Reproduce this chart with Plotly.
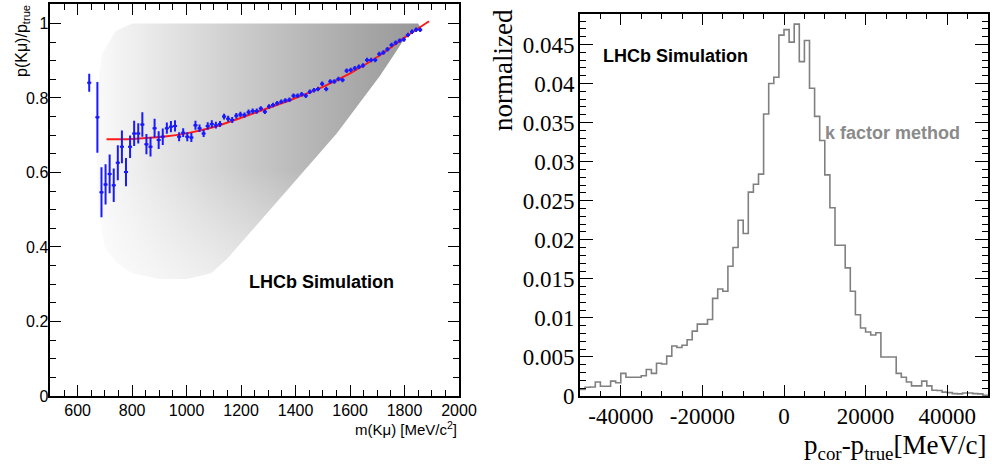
import plotly.graph_objects as go

# ---------------- Left panel data ----------------
mass_bins = [642.5, 672.5, 687.5, 702.5, 717.5, 732.5, 747.5, 762.5, 777.5, 792.5,
             807.5, 822.5, 837.5, 852.5, 867.5, 882.5, 897.5, 912.5, 927.5, 942.5,
             957.5, 972.5, 987.5, 1002.5, 1017.5, 1032.5, 1047.5, 1062.5, 1077.5, 1092.5,
             1107.5, 1122.5, 1137.5, 1152.5, 1167.5, 1182.5, 1197.5, 1212.5, 1227.5, 1242.5,
             1257.5, 1272.5, 1287.5, 1302.5, 1317.5, 1332.5, 1347.5, 1362.5, 1377.5, 1392.5,
             1407.5, 1422.5, 1437.5, 1452.5, 1467.5, 1482.5, 1497.5, 1512.5, 1527.5, 1542.5,
             1557.5, 1572.5, 1587.5, 1602.5, 1617.5, 1632.5, 1647.5, 1662.5, 1677.5, 1692.5,
             1707.5, 1722.5, 1737.5, 1752.5, 1767.5, 1782.5, 1797.5, 1812.5, 1827.5, 1842.5,
             1857.5]
ratio_vals = [0.841, 0.748, 0.547, 0.568, 0.596, 0.566, 0.626, 0.669, 0.601, 0.669,
              0.705, 0.705, 0.729, 0.676, 0.669, 0.719, 0.687, 0.696, 0.719, 0.723,
              0.725, 0.696, 0.707, 0.696, 0.694, 0.727, 0.719, 0.705, 0.725, 0.730,
              0.727, 0.730, 0.750, 0.744, 0.741, 0.752, 0.756, 0.754, 0.762, 0.765,
              0.765, 0.772, 0.763, 0.777, 0.781, 0.786, 0.790, 0.793, 0.795, 0.806,
              0.806, 0.810, 0.806, 0.817, 0.821, 0.824, 0.838, 0.824, 0.844, 0.844,
              0.851, 0.848, 0.873, 0.875, 0.880, 0.884, 0.887, 0.902, 0.902, 0.902,
              0.918, 0.922, 0.931, 0.942, 0.948, 0.954, 0.957, 0.969, 0.978, 0.983,
              0.983]
ratio_errs = [0.024, 0.095, 0.067, 0.054, 0.052, 0.045, 0.047, 0.044, 0.038, 0.030,
              0.034, 0.027, 0.033, 0.027, 0.026, 0.025, 0.024, 0.022, 0.015, 0.015,
              0.015, 0.012, 0.012, 0.012, 0.012, 0.012, 0.010, 0.010, 0.010, 0.010,
              0.009, 0.008, 0.008, 0.008, 0.008, 0.008, 0.007, 0.007, 0.007, 0.007,
              0.007, 0.006, 0.006, 0.006, 0.006, 0.006, 0.006, 0.006, 0.006, 0.006,
              0.006, 0.006, 0.006, 0.006, 0.006, 0.006, 0.006, 0.006, 0.006, 0.006,
              0.006, 0.006, 0.006, 0.006, 0.006, 0.006, 0.006, 0.006, 0.006, 0.006,
              0.006, 0.006, 0.006, 0.006, 0.006, 0.006, 0.006, 0.006, 0.006, 0.006,
              0.006]
mass_half_width = 7.5

fit_mass = [706, 800, 900, 1000, 1100, 1200, 1300, 1400, 1500, 1600, 1700, 1800, 1890]
fit_ratio = [0.689, 0.690, 0.695, 0.705, 0.722, 0.747, 0.773, 0.800, 0.830, 0.866, 0.910, 0.962, 1.006]

# envelope of the scatter cloud, and of its sparse lower part
cloud_outer_x = [668, 690, 740, 800, 1000, 1400, 1700, 1850, 1862, 1812, 1774, 1710, 1628,
                 1551, 1438, 1330, 1232, 1150, 1090, 1000, 900, 800, 740, 700, 675, 668]
cloud_outer_y = [0.80, 0.92, 0.98, 1.0, 1.0, 1.0, 1.0, 1.0, 0.985, 0.973, 0.93, 0.86, 0.78,
                 0.705, 0.61, 0.52, 0.437, 0.37, 0.33, 0.315, 0.315, 0.33, 0.36, 0.40, 0.50, 0.80]
cloud_low_x = [668, 900, 1100, 1438, 1438, 1330, 1232, 1150, 1090, 1000, 900, 800, 740, 700, 675, 668]
cloud_low_y = [0.61, 0.61, 0.61, 0.61, 0.61, 0.52, 0.437, 0.37, 0.33, 0.315, 0.315, 0.33, 0.36, 0.40, 0.50, 0.61]

# ---------------- Right panel data ----------------
hist_low = -50000
hist_width = 1250
hist_vals = [0.00085, 0.00112, 0.00115, 0.0018, 0.00124, 0.00124, 0.0019, 0.0017, 0.0029, 0.0024,
             0.0024, 0.0024, 0.0026, 0.0034, 0.0029, 0.0042, 0.0041, 0.0051, 0.0064, 0.0062,
             0.0065, 0.0072, 0.0083, 0.0092, 0.0092, 0.0098, 0.0125, 0.0137, 0.0134, 0.0166,
             0.0190, 0.0225, 0.0208, 0.0261, 0.0271, 0.0284, 0.0361, 0.0400, 0.0408, 0.0462,
             0.0469, 0.0453, 0.0476, 0.0428, 0.0455, 0.0394, 0.0358, 0.0327, 0.0283, 0.0241,
             0.0193, 0.0193, 0.0164, 0.0134, 0.0104, 0.0087, 0.0082, 0.0078, 0.0081, 0.0050,
             0.0050, 0.0050, 0.0029, 0.0024, 0.0018, 0.0013, 0.0013, 0.0019, 0.0013, 0.00073,
             0.0007, 0.0005, 0.00043, 0.0003, 0.00027, 0.00038, 0.00038, 0.0003, 0.00027, 0.0001]
xr_tickvals = [-40000, -20000, 0, 20000, 40000]
xr_ticktext = ["-40000", "-20000", "0", "20000", "40000"]

W, H = 992, 464
SANS = "Liberation Sans, Arial, Helvetica, sans-serif"
SERIF = "Liberation Serif, Times New Roman, serif"

fig = go.Figure()

# cloud: graded grey body, fading out towards its sparse lower part
fig.add_trace(go.Scatter(x=cloud_outer_x, y=cloud_outer_y, mode="lines", fill="toself",
                         fillgradient=dict(type="horizontal", start=668, stop=1862,
                                           colorscale=[[0, "rgb(250,250,250)"], [0.12, "rgb(238,238,238)"],
                                                       [0.35, "rgb(214,214,214)"], [0.6, "rgb(188,188,188)"],
                                                       [0.85, "rgb(164,164,164)"], [1, "rgb(152,152,152)"]]),
                         line=dict(width=0), hoverinfo="skip", showlegend=False,
                         xaxis="x", yaxis="y"))
fig.add_trace(go.Scatter(x=cloud_low_x, y=cloud_low_y, mode="lines", fill="toself",
                         fillgradient=dict(type="vertical", start=0.315, stop=0.61,
                                           colorscale=[[0, "rgba(255,255,255,0.6)"],
                                                       [0.5, "rgba(255,255,255,0.3)"],
                                                       [1, "rgba(255,255,255,0)"]]),
                         line=dict(width=0), hoverinfo="skip", showlegend=False,
                         xaxis="x", yaxis="y"))
# fit curve
fig.add_trace(go.Scatter(x=fit_mass, y=fit_ratio, mode="lines",
                         line=dict(color="#ff1a1a", width=2, shape="spline"),
                         showlegend=False, xaxis="x", yaxis="y"))
# profile points
fig.add_trace(go.Scatter(x=mass_bins, y=ratio_vals, mode="markers",
                         marker=dict(color="#1a1aff", size=3),
                         error_y=dict(type="data", array=ratio_errs, color="#1a1aff", thickness=2, width=0),
                         error_x=dict(type="constant", value=mass_half_width, color="#1a1aff",
                                      thickness=2, width=0),
                         showlegend=False, xaxis="x", yaxis="y"))

# histogram (step line)
edges = [hist_low + hist_width * i for i in range(len(hist_vals) + 1)]
fig.add_trace(go.Scatter(x=edges, y=hist_vals + [hist_vals[-1]], mode="lines",
                         line=dict(color="#808080", width=1.6, shape="hv"),
                         showlegend=False, xaxis="x2", yaxis="y2"))

ax_common = dict(showline=True, linecolor="black", linewidth=1.8, mirror="ticks",
                 ticks="inside", tickcolor="black", tickwidth=1.4, showgrid=False,
                 zeroline=False, fixedrange=True, automargin=False)

fig.update_layout(
    width=W, height=H, margin=dict(l=0, r=0, t=0, b=0),
    paper_bgcolor="white", plot_bgcolor="white",
    xaxis=dict(domain=[50.4 / W, 459 / W], range=[500, 2000], tick0=0, dtick=200,
               ticklen=11, minor=dict(dtick=50, tick0=0, ticklen=6, ticks="inside",
                                      tickcolor="black", tickwidth=1.4),
               tickfont=dict(family=SANS, size=16, color="black"), ticklabelstandoff=-1,
               anchor="y", **ax_common),
    yaxis=dict(domain=[1 - 396 / H, 1 - 4 / H], range=[0, 1.0523], tick0=0, dtick=0.2,
               ticklen=11, minor=dict(dtick=0.05, tick0=0, ticklen=6, ticks="inside",
                                      tickcolor="black", tickwidth=1.4),
               tickfont=dict(family=SANS, size=16, color="black"), ticklabelstandoff=-3,
               anchor="x", **ax_common),
    xaxis2=dict(domain=[580 / W, 988 / W], range=[-50000, 50000], tickmode="array",
                tickvals=xr_tickvals, ticktext=xr_ticktext, ticklen=11,
                minor=dict(tickmode="linear", dtick=5000, tick0=0, ticklen=5, ticks="inside",
                           tickcolor="black", tickwidth=1.4),
                tickfont=dict(family=SERIF, size=23, color="black"), ticklabelstandoff=-2,
                anchor="y2", **ax_common),
    yaxis2=dict(domain=[1 - 396 / H, 1 - 14 / H], range=[0, 0.0489], tick0=0, dtick=0.005,
                ticklen=13, minor=dict(dtick=0.001, tick0=0, ticklen=6, ticks="inside",
                                       tickcolor="black", tickwidth=1.4),
                tickfont=dict(family=SERIF, size=23, color="black"), ticklabelstandoff=-1,
                anchor="x2", **ax_common),
)

def px(x):
    return x / W

def py(y):
    return 1 - y / H

annotations = [
    dict(text="<b>LHCb Simulation</b>", x=px(246.5), y=py(282), xanchor="left", yanchor="middle",
         font=dict(family=SANS, size=18, color="black")),
    dict(text="m(Kμ) [MeV/c<sup>2</sup>]", x=px(459), y=py(428), xanchor="right", yanchor="middle",
         font=dict(family=SANS, size=15, color="black")),
    dict(text="p(Kμ)/p<sub>true</sub>", x=px(22), y=py(3), xanchor="center", yanchor="top",
         textangle=-90, font=dict(family=SANS, size=16, color="black")),
    dict(text="<b>LHCb Simulation</b>", x=px(601), y=py(56), xanchor="left", yanchor="middle",
         font=dict(family=SANS, size=18, color="black")),
    dict(text="<b>k factor method</b>", x=px(823), y=py(133), xanchor="left", yanchor="middle",
         font=dict(family=SANS, size=18, color="#8a8a8a")),
    dict(text="normalized", x=px(503), y=py(7), xanchor="center", yanchor="top",
         textangle=-90, font=dict(family=SERIF, size=27, color="black")),
    dict(text="p<sub>cor</sub>-p<sub>true</sub>[MeV/c]", x=px(988), y=py(447), xanchor="right",
         yanchor="middle", font=dict(family=SERIF, size=27, color="black")),
]
for a in annotations:
    a.update(xref="paper", yref="paper", showarrow=False)
fig.update_layout(annotations=annotations)

fig.write_html("out.html")
